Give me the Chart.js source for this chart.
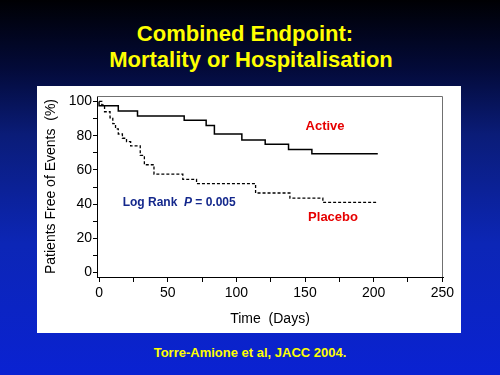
<!DOCTYPE html>
<html>
<head>
<meta charset="utf-8">
<script src="https://cdn.jsdelivr.net/npm/chart.js@4.4.1/dist/chart.umd.min.js"></script>
<style>
  html, body { margin: 0; padding: 0; }
  body {
    width: 500px; height: 375px; overflow: hidden; position: relative;
    background: linear-gradient(to bottom, #000003 0%, #030a38 18%, #0a1c78 36%, #0c26b6 65%, #0a22d2 100%);
    font-family: "Liberation Sans", Arial, sans-serif;
  }
  .title {
    position: absolute; width: 500px; text-align: center;
    color: #ffff00; font-weight: bold; font-size: 22px; line-height: 22px; white-space: pre;
  }
  #panel { position: absolute; left: 37px; top: 86px; width: 424px; height: 247px; background: #fff; }
  #cite {
    position: absolute; left: 0; top: 346px; width: 500px; text-align: center;
    color: #ffff00; font-weight: bold; font-size: 13px; line-height: 13px;
  }
</style>
</head>
<body>
<div class="title" style="top:23px; left:-5px;">Combined Endpoint:</div>
<div class="title" style="top:49px; left:1px;">Mortality or Hospitalisation</div>
<div id="panel"><canvas id="kmChart" width="424" height="247"></canvas></div>
<div id="cite">Torre-Amione et al, JACC 2004.</div>

<script>
// Kaplan-Meier step data (days, % free of events)
const activeDays = [0, 14, 28, 62, 78, 84, 104, 121, 138, 155, 190, 203];
const activeFree = [100, 97.5, 94.5, 91.5, 89, 86, 81, 77.5, 75, 72, 69.5, 69.5];

const placeboDays = [0, 2, 4, 8, 10, 12, 14, 17, 20, 23, 30, 33, 40, 61, 71, 114, 139, 163, 180, 203];
const placeboFree = [100, 100, 98, 94, 90.5, 87, 84, 81, 78.5, 76.5, 74, 68.5, 63, 57.5, 54.5, 52, 46.5, 43.5, 41, 41];

const xTicks = [0, 25, 50, 75, 100, 125, 150, 175, 200, 225, 250];
const yTicks = [0, 10, 20, 30, 40, 50, 60, 70, 80, 90, 100];

const fontFamily = "'Liberation Sans', Arial, sans-serif";

// top and right border of the plot box
const frameBox = {
  id: 'frameBox',
  afterDraw(chart) {
    const { ctx, chartArea: a } = chart;
    ctx.save();
    ctx.strokeStyle = '#707070';
    ctx.lineWidth = 1;
    ctx.beginPath();
    ctx.moveTo(a.left, a.top + 0.5);
    ctx.lineTo(a.right - 0.5, a.top + 0.5);
    ctx.lineTo(a.right - 0.5, a.bottom);
    ctx.stroke();
    ctx.restore();
  }
};

// text notes inside the plot
const notes = {
  id: 'notes',
  afterDatasetsDraw(chart) {
    const { ctx } = chart;
    const xs = chart.scales.x, ys = chart.scales.y;
    ctx.save();
    ctx.textBaseline = 'middle';
    ctx.textAlign = 'center';
    ctx.fillStyle = '#e60000';
    ctx.font = 'bold 13px ' + fontFamily;
    ctx.fillText('Active', xs.getPixelForValue(164.6), ys.getPixelForValue(85.7));
    ctx.fillText('Placebo', xs.getPixelForValue(170.4), ys.getPixelForValue(32.3));

    // Log Rank P = 0.005 with italic P
    ctx.textAlign = 'left';
    ctx.fillStyle = '#14288c';
    let px = xs.getPixelForValue(17.2);
    const py = ys.getPixelForValue(40.7);
    ctx.font = 'bold 12px ' + fontFamily;
    ctx.fillText('Log Rank  ', px, py);
    px += ctx.measureText('Log Rank  ').width;
    ctx.font = 'italic bold 12px ' + fontFamily;
    ctx.fillText('P', px, py);
    px += ctx.measureText('P').width;
    ctx.font = 'bold 12px ' + fontFamily;
    ctx.fillText(' = 0.005', px, py);
    ctx.restore();
  }
};

const ctx = document.getElementById('kmChart').getContext('2d');
const kmChart = new Chart(ctx, {
  type: 'line',
  data: {
    datasets: [{
      label: 'Active',
      data: activeDays.map((d, i) => ({ x: d, y: activeFree[i] })),
      borderColor: '#000000',
      borderWidth: 1.5,
      stepped: 'after',
      pointRadius: 0,
      fill: false
    }, {
      label: 'Placebo',
      data: placeboDays.map((d, i) => ({ x: d, y: placeboFree[i] })),
      borderColor: '#000000',
      borderWidth: 1.3,
      borderDash: [3, 2],
      stepped: 'after',
      pointRadius: 0,
      fill: false
    }]
  },
  options: {
    responsive: false,
    animation: false,
    layout: { padding: { top: 10, right: 18, left: 0, bottom: 0 } },
    plugins: {
      legend: { display: false },
      tooltip: { enabled: false }
    },
    scales: {
      x: {
        type: 'linear',
        min: -1.5,
        max: 250.5,
        afterBuildTicks: (scale) => { scale.ticks = xTicks.map(v => ({ value: v })); },
        afterFit: (scale) => { scale.height = 56; },
        grid: { drawOnChartArea: false, drawTicks: true, tickLength: 5, tickColor: '#000', color: '#000' },
        border: { color: '#000', width: 1 },
        ticks: {
          autoSkip: false, maxRotation: 0, padding: 3, color: '#000',
          font: { family: fontFamily, size: 14 },
          callback: (v) => (v % 50 === 0 ? v : '')
        },
        title: {
          display: true, text: 'Time  (Days)', color: '#000',
          font: { family: fontFamily, size: 14 },
          padding: { top: 0, bottom: 5 }
        }
      },
      y: {
        type: 'linear',
        min: -2.6,
        max: 103.2,
        afterBuildTicks: (scale) => { scale.ticks = yTicks.map(v => ({ value: v })); },
        afterFit: (scale) => { scale.width = 60; },
        grid: { drawOnChartArea: false, drawTicks: true, tickLength: 4, tickColor: '#000', color: '#000' },
        border: { color: '#000', width: 1 },
        ticks: {
          autoSkip: false, padding: 1, color: '#000',
          font: { family: fontFamily, size: 14 },
          callback: (v) => (v % 20 === 0 ? v : '')
        },
        title: {
          display: true, text: 'Patients Free of Events  (%)', color: '#000',
          font: { family: fontFamily, size: 14 },
          padding: { top: 6, bottom: 0 }
        }
      }
    }
  },
  plugins: [frameBox, notes]
});
</script>
</body>
</html>
